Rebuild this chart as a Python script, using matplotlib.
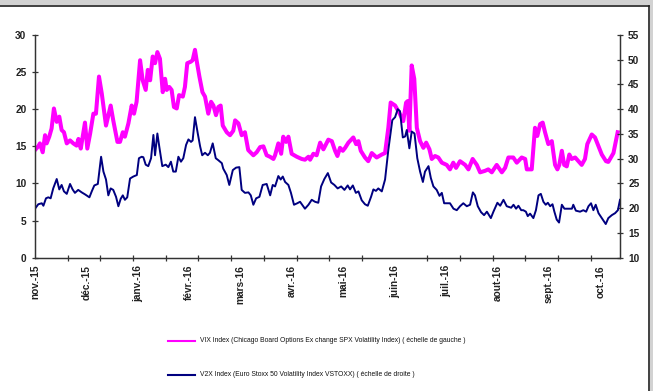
import numpy as np
import matplotlib
matplotlib.use("Agg")
import matplotlib.pyplot as plt
from matplotlib.lines import Line2D
from matplotlib.patches import Rectangle

# trading-day index (0 = early nov. 2015) and index levels
vix_x = [0, 1.4, 2.1, 3.3, 4.3, 5.0, 6.1, 7.1, 8.1, 9.3,
         10.4, 11.4, 12.4, 13.6, 15.0, 16.4, 17.8, 18.6, 19.6, 21.4,
         22.4, 23.6, 25.0, 26.1, 27.4, 28.6, 30.4, 32.4, 33.5, 35.3,
         36.4, 37.6, 38.5, 40.0, 41.4, 42.4, 43.5, 45.0, 46.1, 47.4,
         48.3, 49.3, 50.4, 51.4, 52.4, 53.5, 54.7, 55.7, 56.4, 57.5,
         58.5, 59.5, 60.7, 61.7, 63.3, 64.2, 65.2, 66.7, 67.5, 68.5,
         69.3, 70.4, 71.7, 72.8, 74.2, 75.4, 76.4, 77.5, 78.5, 79.5,
         80.4, 82.1, 83.5, 84.9, 85.7, 87.1, 88.5, 89.9, 91.3, 93.5,
         94.9, 96.4, 97.8, 99.2, 100.6, 102.1, 102.8, 104.2, 105.4, 106.3,
         107.5, 108.5, 109.9, 112.1, 114.2, 115.6, 117.1, 117.8, 119.2, 120.6,
         122.1, 123.5, 125.6, 127.1, 128.5, 129.5, 130.6, 131.8, 132.8, 134.2,
         136.3, 137.5, 138.5, 139.5, 141.3, 142.7, 144.2, 146.3, 148.5, 149.9,
         151.3, 152.3, 154.2, 156.0, 157.7, 158.9, 159.6, 160.3, 161.3, 162.4,
         163.5, 164.9, 166.3, 167.5, 168.9, 169.9, 171.3, 172.7, 174.2, 176.3,
         177.7, 179.1, 180.3, 182.0, 184.2, 185.6, 187.4, 189.2, 190.6, 192.7,
         194.1, 195.6, 197.7, 199.9, 201.3, 202.7, 204.8, 206.3, 208.4, 209.9,
         210.6, 212.7, 214.1, 215.1, 216.3, 217.4, 218.4, 219.8, 221.3, 222.7,
         223.7, 224.5, 225.6, 226.6, 227.7, 228.8, 229.8, 231.3, 232.7, 234.1,
         235.5, 236.5, 238.4, 239.8, 241.2, 242.7, 244.5, 245.5, 247.7, 249.5]
vix = [14.5, 15.0, 15.4, 14.2, 16.5, 15.4, 16.3, 17.4, 20.1, 18.3,
       19.0, 17.2, 16.9, 15.4, 15.8, 15.4, 15.1, 16.0, 14.7, 18.2,
       14.7, 16.7, 19.4, 19.4, 24.4, 22.1, 17.8, 20.5, 18.5, 15.6,
       15.6, 16.9, 16.3, 18.1, 20.5, 19.4, 21.0, 26.6, 23.9, 22.6,
       25.3, 23.9, 27.1, 26.2, 27.7, 26.8, 22.3, 24.1, 22.6, 23.0,
       22.6, 20.3, 20.1, 21.9, 21.7, 23.0, 26.2, 26.4, 26.6, 28.0,
       26.4, 24.4, 22.3, 21.7, 19.4, 21.0, 20.5, 19.2, 20.3, 20.5,
       17.8, 16.9, 16.5, 17.1, 18.5, 18.1, 16.5, 16.9, 14.5, 13.8,
       14.2, 14.9, 15.0, 13.8, 13.6, 13.3, 13.8, 15.4, 14.0, 16.3,
       15.6, 16.3, 14.0, 13.6, 13.3, 13.2, 13.6, 13.2, 14.0, 13.8,
       15.5, 14.6, 15.9, 15.7, 14.4, 13.7, 14.8, 14.4, 14.8, 15.5,
       16.2, 15.3, 15.7, 14.4, 13.5, 13.0, 14.1, 13.5, 13.9, 14.1,
       17.5, 20.9, 20.5, 19.5, 18.4, 20.9, 21.1, 17.1, 25.9, 24.1,
       17.5, 15.7, 14.8, 15.5, 14.6, 13.3, 13.7, 13.5, 12.8, 12.5,
       11.9, 12.8, 12.1, 13.0, 12.5, 11.9, 13.3, 12.5, 11.5, 11.7,
       11.9, 11.5, 12.5, 11.5, 12.1, 13.5, 13.5, 12.8, 13.5, 13.3,
       11.9, 11.9, 17.5, 16.4, 18.0, 18.2, 16.9, 15.3, 15.7, 12.5,
       11.9, 12.5, 14.4, 12.5, 12.3, 13.9, 13.3, 13.5, 13.0, 12.5,
       13.3, 15.3, 16.6, 16.2, 15.1, 13.9, 13.0, 12.9, 14.1, 16.9]

v2x_x = [0, 1.4, 2.9, 3.6, 4.7, 5.7, 6.7, 7.8, 9.3, 10.4,
         11.4, 12.4, 13.6, 15.0, 16.1, 17.1, 18.5, 20.0, 21.4, 23.3,
         24.3, 25.4, 26.9, 28.3, 29.3, 30.4, 31.4, 32.4, 33.5, 34.7,
         35.7, 36.7, 37.6, 38.5, 39.5,
         40.7, 42.1, 43.6, 44.5, 45.7, 46.4, 47.4, 48.5, 49.7, 50.7,
         51.4, 52.4, 53.2, 54.5, 56.0, 57.1, 58.2, 59.2, 60.3, 61.4,
         62.5, 63.5, 64.7, 65.7, 66.8, 67.5, 68.5, 69.7, 70.7, 71.6,
         72.8, 74.0, 74.9, 76.1, 77.4, 78.5, 80.0,
         80.6, 82.1, 83.2, 84.7, 86.1, 87.5, 88.5, 89.9, 91.4, 92.4,
         93.5, 94.7, 96.1, 97.5, 99.2, 100.7, 101.8, 102.8, 104.2, 105.2,
         106.1, 107.1, 108.5, 109.6, 110.9, 112.3, 113.5, 115.6, 117.1, 118.5,
         119.9, 121.3,
         122.5, 123.9, 125.4, 126.8, 128.2, 129.6, 131.1, 132.5, 133.9, 134.9,
         136.1, 137.4, 138.5, 139.9, 141.3, 142.5, 143.9, 144.9, 146.0, 147.0,
         148.5, 149.9, 151.3, 153.0, 154.2, 155.3, 156.3, 157.5, 158.5, 159.2,
         160.3, 161.3, 162.5,
         163.7, 164.9, 166.1, 167.0, 168.5, 169.5, 170.6, 172.0, 173.2, 174.2,
         175.2, 176.3, 177.7, 179.2, 180.6, 182.0, 183.4, 184.9, 186.3, 187.5,
         188.4, 189.6, 191.0, 192.3, 193.5, 195.2, 196.3, 198.0, 199.2, 200.6,
         202.0,
         203.9, 204.9, 206.0, 207.0, 208.2, 209.1, 210.2, 211.0, 212.0, 213.4,
         214.5, 215.6, 216.6, 217.7, 218.7, 219.6, 220.6, 221.6, 222.4, 223.4,
         224.4, 225.6, 226.7, 228.4, 229.9, 230.5, 231.6, 233.4, 234.8, 236.0,
         237.0, 238.1, 239.1, 240.1, 241.3, 242.7, 244.4, 245.5, 247.0, 248.4,
         249.6, 250.5]
v2x = [19.9, 20.8, 21.0, 20.5, 22.0, 22.2, 22.0, 24.0, 25.9, 23.8,
       24.7, 23.4, 22.9, 24.9, 23.8, 23.1, 23.7, 23.2, 22.8, 22.2,
       23.4, 24.6, 24.9, 30.4, 27.4, 25.8, 22.6, 24.0, 23.7, 22.3,
       20.4, 21.9, 22.6, 21.7, 22.2,
       26.0, 26.4, 26.7, 30.1, 30.4, 30.3, 28.8, 28.5, 30.1, 34.8,
       30.7, 35.1, 32.5, 28.5, 28.8, 28.3, 29.4, 27.4, 27.4, 30.4,
       29.4, 30.1, 32.8, 33.9, 33.4, 33.7, 38.4, 35.1, 32.5, 30.7,
       31.2, 30.7, 31.2, 33.1, 30.1, 29.7, 29.1,
       28.0, 26.7, 24.7, 27.7, 28.2, 28.3, 23.7, 23.1, 23.2, 22.6,
       20.7, 22.0, 22.3, 24.7, 24.9, 22.6, 24.7, 24.4, 26.5, 25.8,
       26.4, 25.3, 24.7, 23.1, 20.7, 21.0, 21.3, 19.9, 20.7, 21.7,
       21.3, 21.1,
       24.4, 25.9, 27.1, 25.2, 24.7, 24.0, 24.4, 23.7, 24.6, 23.8,
       24.6, 23.1, 23.4, 21.6, 20.8, 20.5, 22.3, 23.8, 23.5, 24.0,
       23.4, 25.8, 31.8, 37.8, 38.4, 40.0, 39.6, 34.3, 34.5, 35.8,
       32.1, 35.5, 35.1,
       30.1, 27.4, 25.3, 27.4, 28.5, 26.1, 24.4, 23.7, 22.5, 23.1,
       21.0, 21.0, 21.0, 19.9, 19.6, 20.4, 21.0, 20.4, 20.7, 23.2,
       22.6, 20.4, 19.2, 18.6, 19.3, 18.0, 19.3, 21.1, 20.5, 21.7,
       20.4,
       20.1, 20.7, 19.9, 20.5, 19.6, 19.6, 19.3, 18.4, 18.9, 18.0,
       19.6, 22.6, 22.9, 21.3, 20.7, 21.1, 20.4, 20.8, 19.3, 17.7,
       17.1, 20.7, 19.9, 19.9, 19.9, 20.7, 19.5, 19.3, 19.6, 19.3,
       20.4, 21.0, 19.6, 20.7, 19.0, 18.0, 16.8, 18.0, 18.6, 19.0,
       19.6, 21.7]

month_pos = [0, 22, 44, 66, 88, 110, 132, 154, 176, 198, 220, 242]
month_labels = ["nov.-15", "déc.-15", "janv.-16", "févr.-16", "mars-16", "avr.-16",
                "mai-16", "juin-16", "juil.-16", "aout-16", "sept.-16", "oct.-16"]
vix_label = "VIX Index (Chicago Board Options Ex change SPX Volatility Index) ( échelle de gauche )"
v2x_label = "V2X Index (Euro Stoxx 50 Volatility Index VSTOXX) ( échelle de droite )"

W, H = 653, 391
pink = "#FF00FF"
navy = "#000080"
grey = "#333333"

def fx(p):
    return p / W

def fy(p):
    return 1 - p / H

fig = plt.figure(figsize=(W / 100, H / 100), dpi=100)

# window chrome: grey bar on top, border on the right
fig.add_artist(Rectangle((0, fy(5)), 1, 5 / H, transform=fig.transFigure, color="#d2d2d2", lw=0))
fig.add_artist(Rectangle((fx(649.5), 0), 1, 1, transform=fig.transFigure, color="#d2d2d2", lw=0))
fig.add_artist(Line2D([0, fx(648.5)], [fy(5.5), fy(5.5)], transform=fig.transFigure, color="#202020", lw=1.2))
fig.add_artist(Line2D([fx(648.5), fx(648.5)], [fy(5.5), 0], transform=fig.transFigure, color="#202020", lw=1.2))

ax = fig.add_axes([fx(35), fy(257.7), 585 / W, 222.7 / H])
ax2 = ax.twinx()

ax.plot(vix_x, vix, color=pink, lw=2.9, solid_joinstyle="round")
ax2.plot(v2x_x, v2x, color=navy, lw=1.4)

ax.set_xlim(0, 250.5)
ax.set_ylim(0, 30)
ax2.set_ylim(10, 55)
ax.set_yticks(range(0, 31, 5))
ax2.set_yticks(range(10, 56, 5))

ax.set_xticks(month_pos)
ax.set_xticklabels(month_labels, rotation=90)
ax.set_xticks(np.arange(0, 250, 14), minor=True)

tick_font = dict(family="Liberation Sans", weight="bold", size=7.3)
for lab in ax.get_xticklabels() + ax.get_yticklabels() + ax2.get_yticklabels():
    lab.set_fontproperties(matplotlib.font_manager.FontProperties(**tick_font))
    lab.set_color("#222222")

ax.tick_params(axis="x", which="major", length=0, pad=5.2)
ax.tick_params(axis="x", which="minor", direction="inout", length=4.5, color=grey, width=0.9)
ax.tick_params(axis="y", direction="inout", length=5, color=grey, width=0.9, pad=3.6)
ax2.tick_params(axis="y", direction="inout", length=5, color=grey, width=0.9, pad=3.4)

for a in (ax, ax2):
    a.spines["top"].set_visible(False)
    for s in ("left", "right", "bottom"):
        a.spines[s].set_color(grey)
        a.spines[s].set_linewidth(0.9)

# legend drawn under the plot
leg_font = ["Liberation Sans Narrow", "Liberation Sans"]
for yy, col, txt in ((341, pink, vix_label), (374.5, navy, v2x_label)):
    fig.add_artist(Line2D([fx(168), fx(195)], [fy(yy), fy(yy)], transform=fig.transFigure, color=col, lw=1.5))
    fig.text(fx(200), fy(yy), txt, va="center", ha="left", fontsize=4.9, family=leg_font, color="#111111")

fig.savefig("out.png", dpi=100)
